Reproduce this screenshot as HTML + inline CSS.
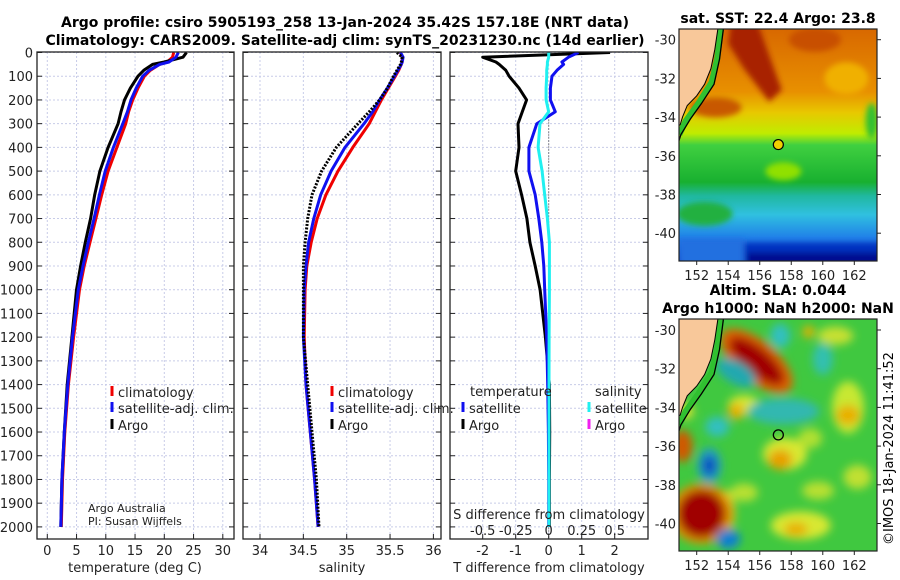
<!DOCTYPE html>
<html><head><meta charset="utf-8"><style>
body{margin:0;background:#fff;width:900px;height:580px;overflow:hidden}
svg{display:block;font-family:"DejaVu Sans","Liberation Sans",sans-serif}
</style></head><body>
<svg id="fig" width="900" height="580" viewBox="0 0 900 580">
<defs>
<clipPath id="c1"><rect x="37" y="52" width="197" height="487"/></clipPath>
<clipPath id="c2"><rect x="243" y="52" width="198" height="487"/></clipPath>
<clipPath id="c3"><rect x="450" y="52" width="198" height="487"/></clipPath>
<clipPath id="cm1"><rect x="679" y="29" width="198" height="232"/></clipPath>
<clipPath id="cm2"><rect x="679" y="319" width="198" height="232"/></clipPath>
<filter id="bl" x="-50%" y="-50%" width="200%" height="200%"><feGaussianBlur stdDeviation="4.5"/></filter>
<filter id="bl2" x="-50%" y="-50%" width="200%" height="200%"><feGaussianBlur stdDeviation="3"/></filter>
<linearGradient id="sstg" x1="0" y1="29" x2="0" y2="261" gradientUnits="userSpaceOnUse">
<stop offset="0" stop-color="#d86800"/><stop offset="0.27" stop-color="#e89000"/>
<stop offset="0.36" stop-color="#e8c800"/><stop offset="0.45" stop-color="#c0ec00"/>
<stop offset="0.5" stop-color="#40d040"/><stop offset="0.66" stop-color="#18b030"/>
<stop offset="0.72" stop-color="#20b8a0"/><stop offset="0.8" stop-color="#30c0e0"/>
<stop offset="0.9" stop-color="#2080e8"/><stop offset="1" stop-color="#1040c8"/>
</linearGradient>
</defs>
<g id="titles" font-weight="bold" font-size="14" text-anchor="middle">
<text x="345" y="27">Argo profile: csiro 5905193_258 13-Jan-2024 35.42S 157.18E (NRT data)</text>
<text x="345" y="45">Climatology: CARS2009. Satellite-adj clim: synTS_20231230.nc (14d earlier)</text>
<text x="778" y="23">sat. SST: 22.4 Argo: 23.8</text>
<text x="778" y="295">Altim. SLA: 0.044</text>
<text x="778" y="313">Argo h1000: NaN h2000: NaN</text>
</g>
<g id="grid"></g>
<g id="lines"></g>
<g id="axes"></g>
<g id="maps"></g>
<text transform="translate(893,545) rotate(-90)" font-size="13">©IMOS 18-Jan-2024 11:41:52</text>
</svg>
<script>
const depths = [0,20,40,50,75,100,150,200,250,300,400,500,600,700,800,900,1000,1200,1400,1600,1800,2000];
const tempArgo = [23.8,23.2,20,18,16.5,15.5,14.2,13.2,12.6,12.1,10.4,9,8.1,7.4,6.5,5.7,5.0,4.2,3.4,2.9,2.5,2.3];
const tempClim = [21.6,21.4,20.5,19.2,17.6,16.6,15.5,14.6,13.9,13.4,11.9,10.4,9.3,8.3,7.3,6.3,5.5,4.5,3.6,3.0,2.6,2.4];
const tempSat = [22.4,22.0,20.8,19.2,17.4,16.3,15.2,14.3,13.7,12.9,11.3,9.9,8.9,8.0,7.0,6.1,5.3,4.3,3.5,2.9,2.5,2.3];
const salArgo = [35.58,35.64,35.63,35.62,35.58,35.54,35.47,35.38,35.26,35.13,34.88,34.71,34.6,34.55,34.52,34.5,34.5,34.5,34.55,34.6,34.65,34.68];
const salClim = [35.62,35.64,35.64,35.63,35.6,35.56,35.48,35.4,35.33,35.26,35.07,34.9,34.76,34.66,34.59,34.54,34.52,34.51,34.53,34.58,34.63,34.67];
const salSat = [35.62,35.65,35.64,35.63,35.59,35.55,35.47,35.38,35.3,35.2,34.98,34.82,34.7,34.62,34.56,34.53,34.51,34.5,34.53,34.58,34.63,34.67];
const dTArgo = [1.86,-2.0,-1.6,-1.5,-1.3,-1.2,-0.9,-0.67,-0.8,-0.93,-0.9,-1.0,-0.82,-0.66,-0.57,-0.41,-0.26,-0.1,0.02,0.03,0.02,0.02];
const dTSat = [0.9,0.6,0.4,0.45,0.25,0.1,0.05,0.05,0.2,-0.36,-0.6,-0.6,-0.41,-0.3,-0.21,-0.15,-0.12,-0.06,-0.03,-0.01,0,0];
const dSSat = [0.0,0.0,-0.01,-0.01,-0.015,-0.015,-0.02,-0.02,0.0,-0.066,-0.08,-0.05,-0.03,-0.01,0.005,0.005,0.005,0.003,0.002,0.002,0.002,0.002];
const tTicks = [0,5,10,15,20,25,30];
const sTicks = ["34","34.5","35","35.5","36"];
const dTTicks = [-2,-1,0,1,2];
const dSTickLabels = ["-0.5","-0.25","0","0.25","0.5"];
const dSTicks = [-0.5,-0.25,0,0.25,0.5];
const depthTicks = [0,100,200,300,400,500,600,700,800,900,1000,1100,1200,1300,1400,1500,1600,1700,1800,1900,2000];
const lonTicks = [152,154,156,158,160,162];
const latTicks = [-30,-32,-34,-36,-38,-40];

const NS="http://www.w3.org/2000/svg";
const Y = d => 52.5 + d*0.2372;
const XT = t => 47.3 + t*5.85;
const XS = s => 260 + (s-34)*86.7;
const XdT = d => 548.7 + d*33;
const XdS = s => 548.7 + s*132;
function mk(parent,tag,attrs,txt){const e=document.createElementNS(NS,tag);for(const k in attrs)e.setAttribute(k,attrs[k]);if(txt!==undefined)e.textContent=txt;parent.appendChild(e);return e;}
const panels=[{x0:37,x1:234,clip:'c1'},{x0:243,x1:441,clip:'c2'},{x0:450,x1:648,clip:'c3'}];
const grid=document.getElementById('grid');
panels.forEach(p=>{depthTicks.forEach(d=>{const l=mk(grid,'line',{x1:p.x0,x2:p.x1,y1:Y(d),y2:Y(d),stroke:'#c8cce8','stroke-dasharray':'2,2','stroke-width':1});

});});
function vgrid(xs){xs.forEach(x=>{const l=mk(grid,'line',{x1:x,x2:x,y1:52,y2:539,stroke:'#c8cce8','stroke-dasharray':'2,2'});

});}
vgrid(tTicks.map(XT));vgrid(sTicks.map(s=>XS(+s)));vgrid(dTTicks.map(XdT));
const lines=document.getElementById('lines');
function series(vals,fx,color,name,clip,dash,w){const pts=vals.map((v,i)=>fx(v).toFixed(1)+','+Y(depths[i]).toFixed(1)).join(' ');
const a={points:pts,fill:'none',stroke:color,'stroke-width':w||3,'stroke-linejoin':'round','clip-path':'url(#'+clip+')'};if(dash)a['stroke-dasharray']=dash;
const e=mk(lines,'polyline',a);

}
series(tempClim,XT,'#f00000','temp-climatology-line','c1');
series(tempArgo,XT,'#000','temp-argo-line','c1');
series(tempSat,XT,'#1010f0','temp-satellite-line','c1');
series(salClim,XS,'#f00000','sal-climatology-line','c2');
series(salSat,XS,'#1010f0','sal-satellite-line','c2');
series(salArgo,XS,'#000','sal-argo-line','c2','2,1.5',3);
const z=mk(lines,'line',{x1:XdT(0),x2:XdT(0),y1:Y(270),y2:539,stroke:'#333','stroke-dasharray':'1,2'});


series(dTArgo,XdT,'#000','tdiff-argo-line','c3');
series(dTSat,XdT,'#1010f0','tdiff-satellite-line','c3');
series(dSSat,XdS,'#20f0f0','sdiff-satellite-line','c3');
const ax=document.getElementById('axes');
panels.forEach((p,i)=>{const r=mk(ax,'rect',{x:p.x0,y:52,width:p.x1-p.x0,height:487,fill:'none',stroke:'#222','stroke-width':1.3});


depthTicks.forEach(d=>{mk(ax,'line',{x1:p.x0,x2:p.x0+5,y1:Y(d),y2:Y(d),stroke:'#222'});mk(ax,'line',{x1:p.x1-5,x2:p.x1,y1:Y(d),y2:Y(d),stroke:'#222'});});});
depthTicks.forEach(d=>{const t=mk(ax,'text',{x:33,y:Y(d)+5,'font-size':13,'text-anchor':'end',fill:'#222'},String(d));

});
function xlab(vals,fx,labs,y){vals.forEach((v,i)=>{const t=mk(ax,'text',{x:fx(v),y:y,'font-size':13,'text-anchor':'middle',fill:'#222'},labs[i]);


mk(ax,'line',{x1:fx(v),x2:fx(v),y1:534,y2:539,stroke:'#222'});});}
xlab(tTicks,XT,tTicks.map(String),555);
xlab(sTicks.map(Number),XS,sTicks,555);
xlab(dTTicks,XdT,dTTicks.map(String),555);
dSTicks.forEach((v,i)=>{const t=mk(ax,'text',{x:XdS(v),y:535,'font-size':13,'text-anchor':'middle',fill:'#222'},dSTickLabels[i]);

});
[[135,'temperature (deg C)','x-axis-title-temperature'],[342,'salinity','x-axis-title-salinity'],[549,'T difference from climatology','x-axis-title-tdiff'],].forEach(a=>{const t=mk(ax,'text',{x:a[0],y:572,'font-size':13,'text-anchor':'middle',fill:'#222'},a[1]);

});
const sd=mk(ax,'text',{x:549,y:519,'font-size':13,'text-anchor':'middle',fill:'#222'},'S difference from climatology');


function leg(x,y,color,label,name){mk(ax,'rect',{x:x-1.5,y:y-11,width:3,height:10,fill:color});
const t=mk(ax,'text',{x:x+6,y:y,'font-size':13,fill:'#222'},label);

}
leg(112,397,'#f00000','climatology','legend-climatology');leg(112,413,'#1010f0','satellite-adj. clim.','legend-satellite');leg(112,430,'#000','Argo','legend-argo');
leg(332,397,'#f00000','climatology','legend2-climatology');leg(332,413,'#1010f0','satellite-adj. clim.','legend2-satellite');leg(332,430,'#000','Argo','legend2-argo');
const lt=mk(ax,'text',{x:470,y:396,'font-size':13,fill:'#222'},'temperature');
const ls=mk(ax,'text',{x:595,y:396,'font-size':13,fill:'#222'},'salinity');
leg(463,413,'#1010f0','satellite','legend3-t-satellite');leg(463,430,'#000','Argo','legend3-t-argo');
leg(589,413,'#20f0f0','satellite','legend3-s-satellite');leg(589,430,'#f020f0','Argo','legend3-s-argo');
const a1=mk(ax,'text',{x:88,y:512,'font-size':11,fill:'#222'},'Argo Australia');
const a2=mk(ax,'text',{x:88,y:525,'font-size':11,fill:'#222'},'PI: Susan Wijffels');
const maps=document.getElementById('maps');
const MX=lon=>696.7+(lon-152)*15.76;
const land=[[150.5,-29.4],[153.35,-29.4],[153.15,-30.5],[152.9,-31.5],[152.5,-32.3],[152.0,-32.9],[151.4,-33.4],[151.1,-34.0],[150.95,-34.4],[150.5,-34.6]];
const isobath=[[153.7,-29.4],[153.45,-31],[153.1,-32.3],[152.3,-33.3],[151.6,-34.1],[151.0,-34.9],[150.8,-35.4]];
function mapBase(yLat30,clip,name){const MY=lat=>yLat30+(-30-lat)*19.35;const g=mk(maps,'g',{'clip-path':'url(#'+clip+')'});return {g,MY};}
function coast(g,MY){mk(g,'polyline',{points:[[153.55,-29.4],[153.3,-31],[152.95,-32.2],[152.1,-33.3],[151.3,-34.2],[150.9,-34.9]].map(p=>MX(p[0])+','+MY(p[1])).join(' '),fill:'none',stroke:'#30c030','stroke-width':6});
mk(g,'polygon',{points:land.map(p=>MX(p[0])+','+MY(p[1])).join(' '),fill:'#f8c89a',stroke:'#000'});
mk(g,'polyline',{points:isobath.map(p=>MX(p[0])+','+MY(p[1])).join(' '),fill:'none',stroke:'#000','stroke-width':1.3});}
(function(){const {g,MY}=mapBase(39.7,'cm1','sst-map');
mk(g,'rect',{x:679,y:29,width:198,height:232,fill:'url(#sstg)'});
const bg=mk(g,'g',{filter:'url(#bl2)'});
mk(bg,'polygon',{points:[[154.2,-29],[155.8,-29],[157.4,-32.6],[156.6,-33.2],[155,-31.5],[154,-30.2]].map(p=>MX(p[0])+','+MY(p[1])).join(' '),fill:'#a82000'});
mk(bg,'ellipse',{cx:MX(159.5),cy:MY(-30),rx:26,ry:12,fill:'#c85000'});
mk(bg,'ellipse',{cx:MX(161.5),cy:MY(-32),rx:22,ry:16,fill:'#f0b000'});
mk(bg,'ellipse',{cx:MX(153.2),cy:MY(-33.5),rx:26,ry:10,fill:'#c85800'});
mk(bg,'ellipse',{cx:MX(163.1),cy:MY(-34.2),rx:6,ry:18,fill:'#30c030'});
mk(bg,'ellipse',{cx:MX(152.5),cy:MY(-39),rx:28,ry:12,fill:'#20b040'});
mk(bg,'ellipse',{cx:MX(157.5),cy:MY(-36.8),rx:18,ry:9,fill:'#90e000'});
mk(bg,'rect',{x:MX(155),y:MY(-40.5),width:140,height:30,fill:'#0030c0'});
mk(bg,'rect',{x:MX(155.2),y:MY(-41),width:140,height:20,fill:'#001090'});
mk(bg,'rect',{x:679,y:MY(-40.3),width:MX(155)-679,height:40,fill:'#2070e0'});
coast(g,MY);
mk(g,'circle',{cx:MX(157.18),cy:MY(-35.42),r:5,fill:'#f0d000',stroke:'#000','stroke-width':1.2});
})();
(function(){const {g,MY}=mapBase(330,'cm2','sla-map');
mk(g,'rect',{x:679,y:319,width:198,height:232,fill:'#40c840'});
const bg=mk(g,'g',{filter:'url(#bl)'});
const E=(lon,lat,rx,ry,c,rot)=>{mk(bg,'ellipse',{cx:MX(lon),cy:MY(lat),rx:rx,ry:ry,fill:c,transform:'rotate('+(rot||0)+' '+MX(lon)+' '+MY(lat)+')'});};
E(161.6,-34,16,26,'#c8e830');E(158.6,-40.1,30,14,'#d8e830');E(155,-33.9,16,10,'#d8e830');E(157.6,-36.4,22,16,'#d8e830');
E(159.7,-38.3,16,9,'#b8e030');E(155,-38.4,14,9,'#b8e030');E(160.8,-30.3,18,9,'#c8e030');E(162.2,-37.6,14,12,'#c0e030');
E(159.2,-35.6,12,10,'#b0e030');E(153.8,-39.4,10,22,'#d8e030');E(151.3,-34.2,8,8,'#d8e030');
E(155.8,-31.6,44,20,'#e06000',40);E(155.8,-31.6,34,13,'#a00000',40);
E(152.3,-39.5,32,30,'#e09000');E(152.3,-39.5,24,24,'#a00000');
E(151.1,-36,10,16,'#d05800');E(157.3,-36.7,12,10,'#e8a000');E(161.6,-34.4,12,10,'#e8b000');E(158.3,-40.3,12,7,'#e8b000');E(154.5,-34.2,8,8,'#e8b000');E(159.1,-30.1,6,6,'#e8b000');
E(152.8,-37,12,18,'#20a0c0');E(152.8,-37,7,10,'#1050c0');
E(154.5,-32.2,22,11,'#20a8b0',30);E(157.5,-34.2,36,13,'#30b8b0');E(157.3,-30.3,10,12,'#30c0c0');E(153.3,-35,12,10,'#30c0c0');
E(154,-40.8,12,10,'#1080d0');E(160,-31.5,10,16,'#30c0b0');
coast(g,MY);
mk(g,'circle',{cx:MX(157.18),cy:MY(-35.42),r:5,fill:'none',stroke:'#000','stroke-width':1.3});
})();
[[29,261,39.7],[319,551,330]].forEach((m,k)=>{const r=mk(maps,'rect',{x:679,y:m[0],width:198,height:m[1]-m[0],fill:'none',stroke:'#222','stroke-width':1.2});


lonTicks.forEach(lon=>{const t=mk(maps,'text',{x:MX(lon),y:m[1]+19,'font-size':13,'text-anchor':'middle',fill:'#222'},String(lon));


mk(maps,'line',{x1:MX(lon),x2:MX(lon),y1:m[1],y2:m[1]+4,stroke:'#222'});});
latTicks.forEach(lat=>{const y=m[2]+(-30-lat)*19.35;const t=mk(maps,'text',{x:676,y:y+5,'font-size':13,'text-anchor':'end',fill:'#222'},String(lat));


mk(maps,'line',{x1:877,x2:881,y1:y,y2:y,stroke:'#222'});});});
</script>
</body></html>
